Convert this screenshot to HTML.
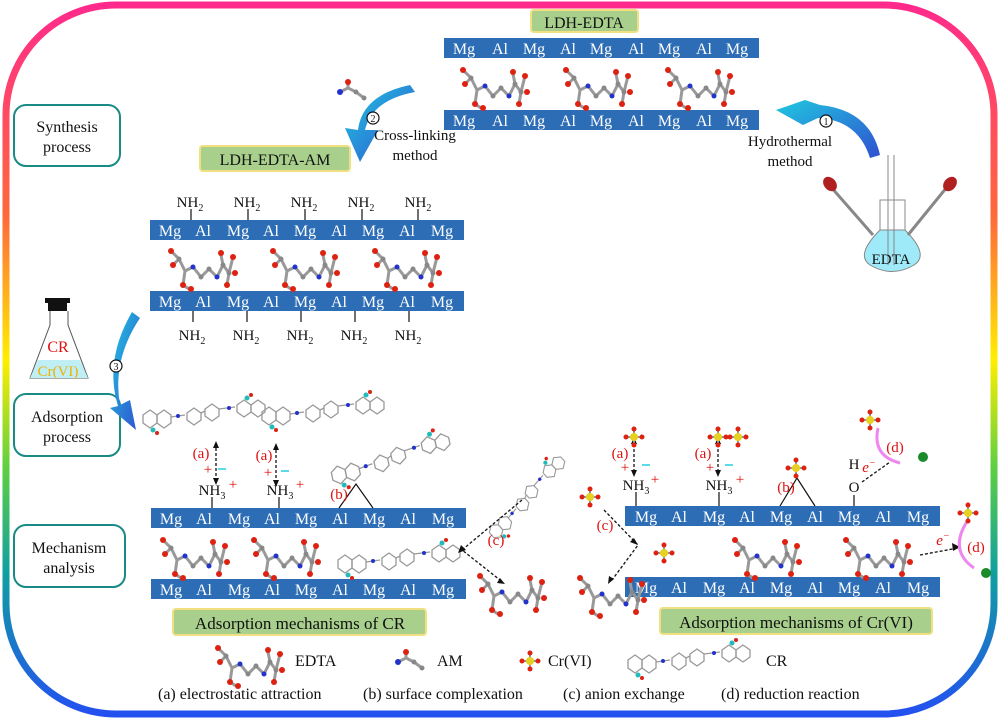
<!DOCTYPE html>
<html><head><meta charset="utf-8"><style>
html,body{margin:0;padding:0;background:#fff}
svg{display:block}
text{font-family:"Liberation Serif",serif}
.bt{fill:#fff;font-size:16px}
.bk{fill:#111;font-size:15px}
.rd{fill:#e01010;font-size:15px}
</style></head><body>
<svg width="1000" height="720" viewBox="0 0 1000 720" xmlns="http://www.w3.org/2000/svg">
<defs>
<linearGradient id="fr" x1="0" y1="0" x2="0" y2="1">
<stop offset="0" stop-color="#ff2a8c"/><stop offset="0.3" stop-color="#ff6a3a"/><stop offset="0.5" stop-color="#ffee00"/><stop offset="0.65" stop-color="#60d040"/><stop offset="0.8" stop-color="#10a0a0"/><stop offset="1" stop-color="#2450f0"/>
</linearGradient>
<linearGradient id="ar" x1="0" y1="0" x2="1" y2="1">
<stop offset="0" stop-color="#20c8e0"/><stop offset="1" stop-color="#3050d0"/>
</linearGradient>
<g id="edta">
<g stroke="#999" stroke-width="3" fill="none"><path d="M8 8 L16 16 L22 28 L30 24 L38 34 L46 26 L54 34 L60 22 L66 30 L70 14 M22 28 L20 42 L26 46 M16 16 L10 22 M60 22 L58 12 M66 30 L64 42"/></g>
<g fill="#d21"><circle cx="8" cy="8" r="3"/><circle cx="10" cy="22" r="3"/><circle cx="20" cy="42" r="3"/><circle cx="28" cy="46" r="3"/><circle cx="58" cy="10" r="3"/><circle cx="70" cy="14" r="3"/><circle cx="64" cy="42" r="3"/><circle cx="72" cy="30" r="3"/></g>
<g fill="#888"><circle cx="16" cy="16" r="2.5"/><circle cx="38" cy="34" r="2.5"/><circle cx="46" cy="26" r="2.5"/><circle cx="66" cy="30" r="2.5"/><circle cx="60" cy="22" r="2.5"/></g>
<g fill="#2233cc"><circle cx="30" cy="24" r="2.5"/><circle cx="54" cy="34" r="2.5"/></g>
</g>
<g id="cr">
<g stroke="#999" stroke-width="1.3" fill="none">
<polygon points="0,20 7,15 14,20 14,28 7,33 0,28"/><polygon points="14,20 21,15 28,20 28,28 21,33 14,28"/>
<path d="M28 22 L42 20"/>
<polygon points="44,18 51,13 58,18 58,25 51,30 44,25"/><polygon points="62,14 69,9 76,14 76,21 69,26 62,21"/><path d="M58 18 L62 16 M76 14 L92 12"/>
<polygon points="94,10 101,5 108,10 108,17 101,22 94,17"/><polygon points="108,10 115,5 122,10 122,17 115,22 108,17"/>
</g>
<g fill="#23c"><circle cx="35" cy="21" r="2"/><circle cx="86" cy="13" r="2"/></g>
<circle cx="104" cy="3" r="2.5" fill="#2bb"/><circle cx="10" cy="35" r="2.5" fill="#2bb"/><circle cx="14" cy="38" r="2" fill="#d21"/><circle cx="108" cy="0" r="2" fill="#d21"/>
</g>
<g id="cr6">
<g stroke="#999" stroke-width="2"><path d="M0 -8 L0 8 M-8 0 L8 0"/></g>
<circle cx="0" cy="0" r="4" fill="#e8d020"/>
<g fill="#d21"><circle cx="0" cy="-8" r="2.5"/><circle cx="0" cy="8" r="2.5"/><circle cx="-8" cy="0" r="2.5"/><circle cx="8" cy="0" r="2.5"/></g>
</g>
<g id="am">
<path d="M0 10 L8 6 L8 0 M8 6 L16 10 L24 16" stroke="#999" stroke-width="3" fill="none"/>
<circle cx="8" cy="0" r="3" fill="#d21"/><circle cx="0" cy="10" r="3" fill="#23c"/><circle cx="16" cy="10" r="2.5" fill="#888"/><circle cx="24" cy="16" r="2.5" fill="#888"/>
</g>
</defs>

<rect x="6" y="5" width="988" height="709" rx="110" ry="110" fill="none" stroke="url(#fr)" stroke-width="7"/>

<g fill="#fff" stroke="#1a8a86" stroke-width="2">
<rect x="14" y="105" width="106" height="61" rx="12"/>
<rect x="14" y="394" width="106" height="62" rx="12"/>
<rect x="14" y="525" width="111" height="62" rx="12"/>
</g>
<g class="bk" text-anchor="middle">
<text x="67" y="132" style="font-size:16px">Synthesis</text><text x="67" y="152" style="font-size:16px">process</text>
<text x="67" y="422" style="font-size:16px">Adsorption</text><text x="67" y="442" style="font-size:16px">process</text>
<text x="69" y="553" style="font-size:16px">Mechanism</text><text x="69" y="573" style="font-size:16px">analysis</text>
</g>

<g fill="#a8d08c" stroke="#f0e080" stroke-width="2">
<rect x="531" y="10" width="107" height="22" rx="3"/>
<rect x="200" y="146" width="150" height="25" rx="3"/>
<rect x="173" y="609" width="253" height="26" rx="3"/>
<rect x="660" y="608" width="272" height="26" rx="3"/>
</g>
<g text-anchor="middle" fill="#111">
<text x="584" y="28" style="font-size:16px">LDH-EDTA</text>
<text x="275" y="165" style="font-size:16px">LDH-EDTA-AM</text>
<text x="300" y="629" style="font-size:17px">Adsorption mechanisms of CR</text>
<text x="796" y="628" style="font-size:17px">Adsorption mechanisms of Cr(VI)</text>
</g>

<g fill="#2c6db5">
<rect x="444" y="38" width="315" height="20"/><rect x="444" y="110" width="315" height="20"/>
<rect x="150" y="220" width="314" height="20"/><rect x="150" y="291" width="314" height="20"/>
<rect x="151" y="508" width="315" height="20"/><rect x="151" y="579" width="315" height="20"/>
<rect x="625" y="506" width="315" height="20"/><rect x="625" y="577" width="315" height="20"/>
</g>
<g class="bt" text-anchor="middle">
<g id="row1"><text x="464" y="54">Mg</text><text x="500" y="54">Al</text><text x="534" y="54">Mg</text><text x="568" y="54">Al</text><text x="601" y="54">Mg</text><text x="636" y="54">Al</text><text x="669" y="54">Mg</text><text x="704" y="54">Al</text><text x="737" y="54">Mg</text></g>
<use href="#row1" y="72"/>
<g id="row2"><text x="170" y="236">Mg</text><text x="203" y="236">Al</text><text x="238" y="236">Mg</text><text x="271" y="236">Al</text><text x="305" y="236">Mg</text><text x="339" y="236">Al</text><text x="373" y="236">Mg</text><text x="407" y="236">Al</text><text x="442" y="236">Mg</text></g>
<use href="#row2" y="71"/>
<use href="#row2" x="1" y="288"/>
<use href="#row2" x="1" y="359"/>
<use href="#row2" x="476" y="286"/>
<use href="#row2" x="476" y="357"/>
</g>

<use href="#edta" x="455" y="62"/><use href="#edta" x="558" y="62"/><use href="#edta" x="660" y="62"/>
<use href="#edta" x="163" y="243"/><use href="#edta" x="265" y="243"/><use href="#edta" x="367" y="243"/>
<use href="#edta" x="155" y="532"/><use href="#edta" x="246" y="532"/>
<use href="#edta" x="727" y="532"/><use href="#edta" x="838" y="532"/>
<use href="#edta" x="472" y="568"/><use href="#edta" x="572" y="570"/>
<use href="#edta" x="210" y="640"/>
<use href="#am" x="340" y="82"/><use href="#am" x="398" y="652"/>

<g class="bk" text-anchor="middle">
<text x="190" y="207">NH<tspan font-size="10" dy="4">2</tspan></text>
<text x="247" y="207">NH<tspan font-size="10" dy="4">2</tspan></text>
<text x="304" y="207">NH<tspan font-size="10" dy="4">2</tspan></text>
<text x="361" y="207">NH<tspan font-size="10" dy="4">2</tspan></text>
<text x="418" y="207">NH<tspan font-size="10" dy="4">2</tspan></text>
<text x="192" y="340">NH<tspan font-size="10" dy="4">2</tspan></text>
<text x="246" y="340">NH<tspan font-size="10" dy="4">2</tspan></text>
<text x="300" y="340">NH<tspan font-size="10" dy="4">2</tspan></text>
<text x="354" y="340">NH<tspan font-size="10" dy="4">2</tspan></text>
<text x="408" y="340">NH<tspan font-size="10" dy="4">2</tspan></text>
</g>
<g stroke="#111" stroke-width="1.2" fill="none">
<path d="M191 209V220M248 209V220M305 209V220M362 209V220M418 209V220M193 311V322M247 311V322M301 311V322M355 311V322M409 311V322"/>
<path d="M212 497V508M279 497V508M636 492V506M719 492V506M854 495V506"/>
<path d="M339 508L356 484L373 508M780 506L797 478L815 506"/>
</g>

<use href="#cr" x="143" y="395"/><use href="#cr" x="262" y="392"/><use href="#cr" x="330" y="440" transform="rotate(-12 390 460)"/>
<use href="#cr" x="338" y="540"/>
<use href="#cr" transform="translate(478,520) rotate(-42) scale(0.85)"/>
<use href="#cr" x="628" y="640"/>

<g class="bk" text-anchor="middle">
<text x="212" y="495">NH<tspan font-size="10" dy="4">3</tspan></text>
<text x="280" y="495">NH<tspan font-size="10" dy="4">3</tspan></text>
<text x="636" y="490">NH<tspan font-size="10" dy="4">3</tspan></text>
<text x="719" y="490">NH<tspan font-size="10" dy="4">3</tspan></text>
<text x="854" y="469">H</text><text x="854" y="492">O</text>
</g>
<g class="rd" text-anchor="middle">
<text x="201" y="458">(a)</text><text x="264" y="460">(a)</text><text x="339" y="499">(b)</text><text x="496" y="545">(c)</text>
<text x="620" y="458">(a)</text><text x="703" y="458">(a)</text><text x="786" y="492">(b)</text><text x="605" y="530">(c)</text>
<text x="895" y="452">(d)</text><text x="976" y="552">(d)</text>
<text x="208" y="474">+</text><text x="268" y="477">+</text><text x="233" y="489">+</text><text x="300" y="489">+</text>
<text x="625" y="472">+</text><text x="710" y="472">+</text><text x="655" y="484">+</text><text x="740" y="484">+</text>
<text x="869" y="472" font-style="italic">e<tspan font-size="10" dy="-6">−</tspan></text>
<text x="943" y="545" font-style="italic">e<tspan font-size="10" dy="-6">−</tspan></text>
</g>
<g stroke="#22d0e0" stroke-width="1.5"><path d="M218 469h8M281 471h8M642 465h8M725 465h8"/></g>
<g stroke="#111" stroke-width="1.3" stroke-dasharray="3,2" fill="none">
<path d="M216 448V478M276 450V480M634 444V470M718 444V470"/>
<path d="M862 482L890 462M920 555L958 548"/>
<path d="M522 500L462 550L500 580M604 510L638 545L612 580"/>
</g>
<g fill="#111"><path d="M213 448l3-7 3 7zM213 478l3 7 3-7zM273 450l3-7 3 7zM273 480l3 7 3-7zM631 444l3-7 3 7zM631 470l3 7 3-7zM715 444l3-7 3 7zM715 470l3 7 3-7z"/><path d="M960 547l-8-4 1 8z"/>
<path d="M458 553l3-8 5 5z"/><path d="M505 584l-8-1 3-5z"/><path d="M638 545l-8-3 4-4z"/><path d="M608 584l1-8 5 3z"/></g>
<path d="M878 428q-6 28 22 35" stroke="#e8e" stroke-width="3" fill="none"/><path d="M968 520q-20 30 6 48" stroke="#e8e" stroke-width="3" fill="none"/>
<circle cx="923" cy="457" r="5" fill="#1a8a2a"/><circle cx="986" cy="573" r="5" fill="#1a8a2a"/>

<use href="#cr6" x="634" y="437"/><use href="#cr6" x="718" y="437"/><use href="#cr6" x="738" y="437"/>
<use href="#cr6" x="796" y="468"/><use href="#cr6" x="870" y="420"/><use href="#cr6" x="968" y="513"/>
<use href="#cr6" x="590" y="497"/><use href="#cr6" x="664" y="553"/><use href="#cr6" x="530" y="661"/>

<g class="bk" style="font-size:16px">
<text x="295" y="666">EDTA</text><text x="437" y="666">AM</text><text x="548" y="666">Cr(VI)</text><text x="766" y="666">CR</text>
<text x="158" y="699">(a) electrostatic attraction</text><text x="363" y="699">(b) surface complexation</text><text x="563" y="699">(c) anion exchange</text><text x="721" y="699">(d) reduction reaction</text>
</g>

<path d="M880 155 Q870 110 820 105 L805 100 L776 110 L803 125 L818 118 Q858 120 870 158 Z" fill="url(#ar)"/>
<path d="M415 92 Q372 100 365 130 L378 130 L360 162 L345 128 L358 130 Q362 95 410 85 Z" fill="url(#ar)"/>
<path d="M140 318 Q112 360 120 405 L130 400 L136 430 L110 408 L118 406 Q104 360 132 312 Z" fill="url(#ar)"/>
<g class="bk" text-anchor="middle">
<text x="415" y="140">Cross-linking</text><text x="415" y="160">method</text>
<text x="790" y="146">Hydrothermal</text><text x="790" y="166">method</text>
</g>
<g fill="#fff" stroke="#111" stroke-width="1.2"><circle cx="373" cy="118" r="6"/><circle cx="826" cy="121" r="6"/><circle cx="116" cy="366" r="6"/></g>
<g style="font-size:10px" fill="#111" text-anchor="middle"><text x="373" y="122">2</text><text x="826" y="125">1</text><text x="116" y="370">3</text></g>

<path d="M880 230 Q855 255 870 265 Q892 278 914 265 Q930 255 905 230 Z" fill="#9eeaf8" stroke="#888"/>
<path d="M880 230V200h25v30" fill="none" stroke="#888"/>
<path d="M888 155V265M894 155V265" stroke="#888"/>
<path d="M831 187L873 235M947 187L908 235" stroke="#888" stroke-width="3"/>
<ellipse cx="830" cy="184" rx="6" ry="8" fill="#b02020" transform="rotate(-40 830 184)"/>
<ellipse cx="950" cy="184" rx="6" ry="8" fill="#b02020" transform="rotate(40 950 184)"/>
<text x="891" y="264" class="bk" text-anchor="middle">EDTA</text>

<rect x="45" y="298" width="25" height="5" fill="#111"/><rect x="48" y="303" width="19" height="8" fill="#111"/>
<path d="M50 311V325L30 378H88L68 325V311" fill="#fff" stroke="#555"/>
<path d="M38 360H80L88 378H30Z" fill="#bfeef4"/>
<text x="58" y="352" class="rd" text-anchor="middle" style="font-size:16px">CR</text>
<text x="58" y="376" text-anchor="middle" style="font-size:15px" fill="#f0b000">Cr(VI)</text>
</svg>
</body></html>
